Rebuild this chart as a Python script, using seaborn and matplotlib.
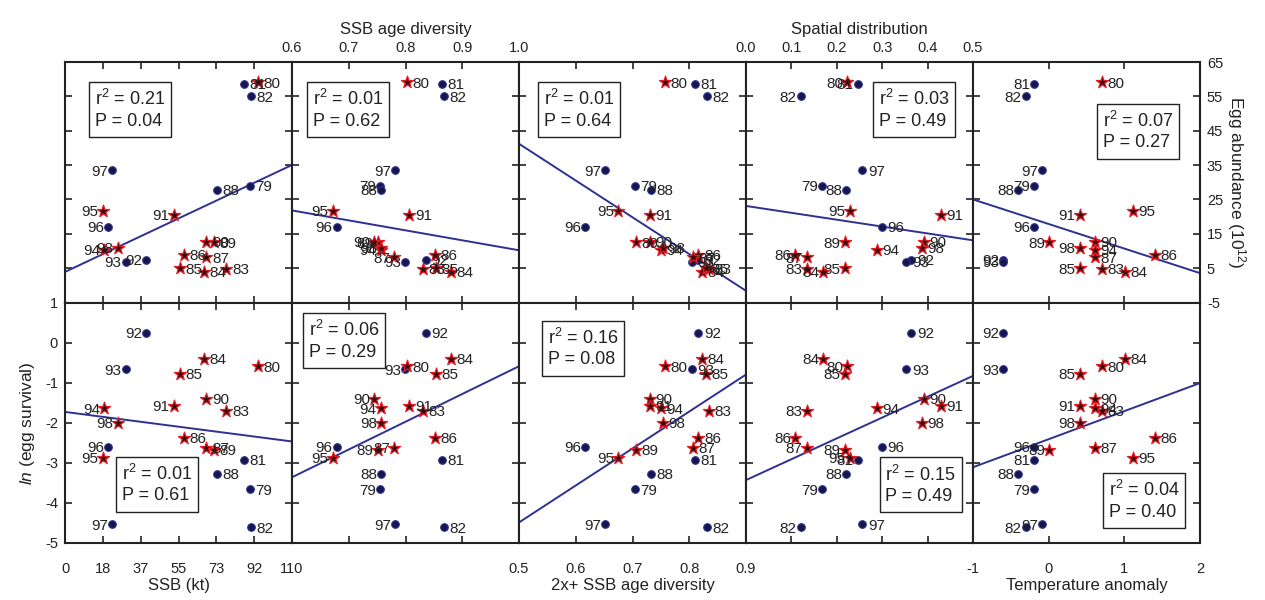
"""
Egg abundance and egg survival against stock descriptors, 1979-1998
"""
import numpy as np
import pandas as pd
import matplotlib
matplotlib.use("Agg")
import matplotlib.pyplot as plt
import seaborn as sns
from matplotlib.patches import Rectangle

# --- data ---------------------------------------------------------------
years = ['79', '80', '81', '82', '83', '84', '85', '86', '87', '88',
         '89', '90', '91', '92', '93', '94', '95', '96', '97', '98']
kind = ['circle', 'star', 'circle', 'circle', 'star', 'star', 'star', 'star', 'star', 'circle',
        'star', 'star', 'star', 'circle', 'circle', 'star', 'star', 'circle', 'circle', 'star']

egg_abundance = [28.9, 59.1, 58.7, 55.0, 4.8, 3.9, 5.0, 8.9, 8.2, 27.8,
                 12.5, 12.7, 20.5, 7.4, 6.8, 10.3, 21.7, 17.1, 33.5, 11.0]
ln_survival = [-3.66, -0.59, -2.92, -4.61, -1.70, -0.41, -0.78, -2.38, -2.63, -3.28,
               -2.68, -1.41, -1.58, 0.24, -0.67, -1.64, -2.87, -2.60, -4.53, -2.00]

ssb = [89.7, 93.3, 86.5, 90.0, 78.2, 67.3, 55.5, 57.6, 68.5, 73.8,
       72.2, 68.5, 52.7, 39.4, 29.5, 19.1, 18.3, 20.8, 23.0, 25.5]
ssb_div = [0.755, 0.802, 0.864, 0.867, 0.831, 0.880, 0.854, 0.852, 0.780, 0.757,
           0.751, 0.745, 0.807, 0.836, 0.799, 0.756, 0.672, 0.679, 0.782, 0.757]
ssb2_div = [0.704, 0.757, 0.810, 0.831, 0.834, 0.823, 0.829, 0.816, 0.806, 0.733,
            0.706, 0.731, 0.731, 0.816, 0.804, 0.750, 0.675, 0.617, 0.652, 0.754]
spatial = [0.167, 0.223, 0.246, 0.121, 0.134, 0.170, 0.217, 0.109, 0.134, 0.221,
           0.217, 0.391, 0.429, 0.364, 0.353, 0.288, 0.228, 0.299, 0.256, 0.387]
temp_anom = [-0.19, 0.70, -0.19, -0.30, 0.70, 1.01, 0.41, 1.40, 0.61, -0.40,
             0.01, 0.61, 0.41, -0.60, -0.60, 0.61, 1.11, -0.19, -0.09, 0.41]

# regression lines (intercept, slope) as drawn in the figure
egg_fit_int = [3.9, 39.2, 94.7, 23.1, 17.85]
egg_fit_slope = [0.283, -29.0, -107.0, -20.0, -7.15]
surv_fit_int = [-1.73, -7.515, -9.10, -3.43, -2.41]
surv_fit_slope = [-0.0067, 6.925, 9.225, 5.2, 0.70]

egg_r2 = ['0.21', '0.01', '0.01', '0.03', '0.07']
egg_p = ['0.04', '0.62', '0.64', '0.49', '0.27']
surv_r2 = ['0.01', '0.06', '0.16', '0.15', '0.04']
surv_p = ['0.61', '0.29', '0.08', '0.49', '0.40']

x_names = ['SSB (kt)', 'SSB age diversity', '2x+ SSB age diversity',
           'Spatial distribution', 'Temperature anomaly']
x_cols = ['ssb', 'ssb_div', 'ssb2_div', 'spatial', 'temp']
x_limits = [(0, 110), (0.6, 1.0), (0.5, 0.9), (0.0, 0.5), (-1, 2)]
x_tick_labels = [['0', '18', '37', '55', '73', '92', '110'],
                 ['0.6', '0.7', '0.8', '0.9', '1.0'],
                 ['0.5', '0.6', '0.7', '0.8', '0.9'],
                 ['0.0', '0.1', '0.2', '0.3', '0.4', '0.5'],
                 ['-1', '0', '1', '2']]

egg_ticks = [-5, 5, 15, 25, 35, 45, 55, 65]
surv_ticks = [-5, -4, -3, -2, -1, 0, 1]

df = pd.DataFrame({'year': years, 'kind': kind, 'egg': egg_abundance,
                   'surv': ln_survival, 'ssb': ssb, 'ssb_div': ssb_div,
                   'ssb2_div': ssb2_div, 'spatial': spatial, 'temp': temp_anom})

# --- style -----------------------------------------------------------------
sns.set_style("ticks")
FONT = ['Liberation Sans', 'DejaVu Sans']
plt.rcParams['font.family'] = FONT
plt.rcParams['mathtext.fontset'] = 'custom'
plt.rcParams['mathtext.rm'] = 'Liberation Sans'
plt.rcParams['mathtext.it'] = 'Liberation Sans:italic'

LINE_BLUE = '#2e3192'
DOT_FILL = '#16164a'
STAR_RED = '#e41e26'
INK = '#222222'

# box centres in axes fraction, per row / column
box_pos = [[(0.286, 0.803), (0.247, 0.803), (0.264, 0.803), (0.740, 0.803), (0.727, 0.712)],
           [(0.405, 0.244), (0.229, 0.842), (0.284, 0.810), (0.769, 0.242), (0.755, 0.177)]]
BOX_W, BOX_H = 0.361, 0.228


def draw_panel(ax, r, c):
    xcol = x_cols[c]
    ycol = 'egg' if r == 0 else 'surv'
    xlo, xhi = x_limits[c]

    # fitted line
    a = egg_fit_int[c] if r == 0 else surv_fit_int[c]
    b = egg_fit_slope[c] if r == 0 else surv_fit_slope[c]
    xs = np.array([xlo, xhi])
    ax.plot(xs, a + b * xs, color=LINE_BLUE, lw=1.4, zorder=2)

    circ = df[df['kind'] == 'circle']
    star = df[df['kind'] == 'star']
    sns.scatterplot(data=circ, x=xcol, y=ycol, ax=ax, marker='o', s=30,
                    color=DOT_FILL, edgecolor=LINE_BLUE, linewidth=0.8, zorder=3)
    sns.scatterplot(data=star, x=xcol, y=ycol, ax=ax, marker='*', s=85,
                    color='#3a0505', edgecolor=STAR_RED, linewidth=0.9, zorder=3)

    # year labels: left of the point in the left half, right otherwise
    mid = (xlo + xhi) / 2
    for _, row in df.iterrows():
        left = row[xcol] < mid
        ax.annotate(row['year'], (row[xcol], row[ycol]),
                    xytext=(-3 if left else 4, -1), textcoords='offset points',
                    ha='right' if left else 'left', va='center',
                    fontsize=11, color=INK, zorder=4)

    # r2 / P box
    cx, cy = box_pos[r][c]
    ax.add_patch(Rectangle((cx - BOX_W / 2, cy - BOX_H / 2), BOX_W, BOX_H,
                           transform=ax.transAxes, facecolor='white',
                           edgecolor=INK, lw=1.0, zorder=5))
    r2 = egg_r2[c] if r == 0 else surv_r2[c]
    p = egg_p[c] if r == 0 else surv_p[c]
    ax.text(cx, cy, f'r$^2$ = {r2}\nP = {p}', transform=ax.transAxes,
            ha='center', va='center', multialignment='left', fontsize=13,
            linespacing=1.25, color=INK, zorder=6)

    # axes
    ax.set_xlim(xlo, xhi)
    ax.set_xticks(np.linspace(xlo, xhi, len(x_tick_labels[c])))
    ax.set_xticklabels(x_tick_labels[c])
    if r == 0:
        ax.set_ylim(-5, 65)
        ax.set_yticks(egg_ticks)
        ax.set_yticklabels([str(t) for t in egg_ticks])
    else:
        ax.set_ylim(-5, 1)
        ax.set_yticks(surv_ticks)
        ax.set_yticklabels([str(t) for t in surv_ticks])
    ax.set_xlabel('')
    ax.set_ylabel('')

    top_labels = (r == 0 and c in (1, 3))
    bottom_labels = (r == 1 and c in (0, 2, 4))
    ax.tick_params(axis='x', direction='in', length=5, width=1.2, colors=INK,
                   top=True, bottom=True, labeltop=top_labels,
                   labelbottom=bottom_labels, labelsize=10.5,
                   pad=14 if bottom_labels else 5)
    ax.tick_params(axis='y', direction='in', length=5, width=1.2, colors=INK,
                   left=True, right=True,
                   labelleft=(r == 1 and c == 0), labelright=(r == 0 and c == 4),
                   labelsize=10.5, pad=5)
    for sp in ax.spines.values():
        sp.set_linewidth(1.5)
        sp.set_color(INK)
        sp.set_visible(True)

    if top_labels:
        ax.xaxis.set_label_position('top')
        ax.set_xlabel(x_names[c], fontsize=12, labelpad=5, color=INK)
    if bottom_labels:
        ax.set_xlabel(x_names[c], fontsize=12, labelpad=1, color=INK)


def main():
    fig, axes = plt.subplots(2, 5, figsize=(12.65, 6.0), dpi=100,
                             gridspec_kw={'wspace': 0, 'hspace': 0})
    fig.subplots_adjust(left=65 / 1265, right=1200 / 1265,
                        top=1 - 62 / 600, bottom=1 - 543 / 600)

    for r in range(2):
        for c in range(5):
            draw_panel(axes[r, c], r, c)

    axes[1, 0].set_ylabel('$\\it{ln}$ (egg survival)', fontsize=12.5,
                          labelpad=6, color=INK)
    ax = axes[0, 4]
    ax.yaxis.set_label_position('right')
    ax.set_ylabel('Egg abundance (10$^{12}$)', fontsize=12.5, rotation=270,
                  labelpad=18, color=INK)

    fig.savefig('out.png', dpi=100)
    plt.close(fig)


if __name__ == "__main__":
    main()
